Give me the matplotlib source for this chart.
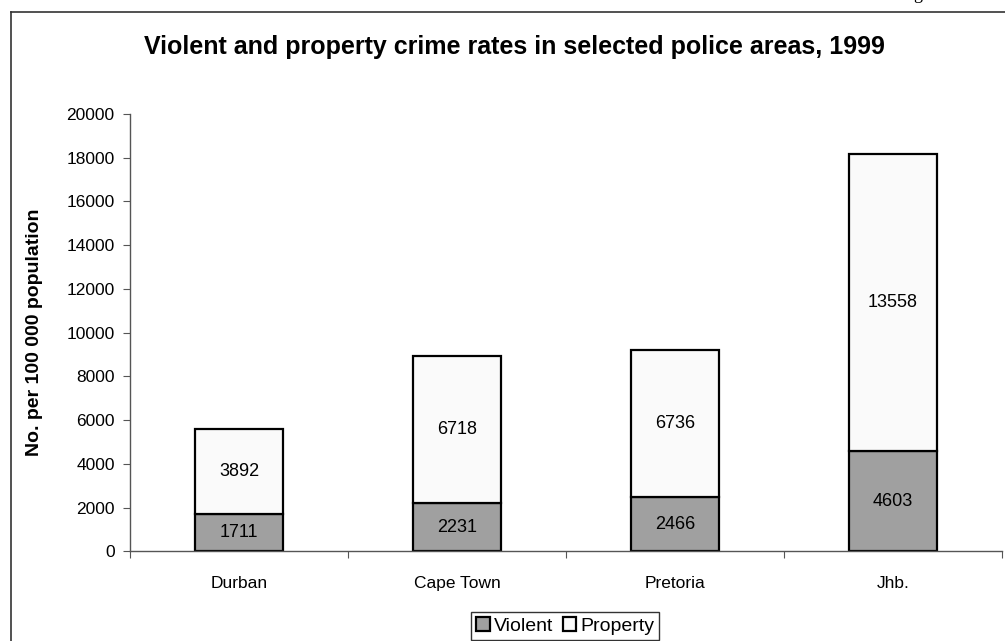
import matplotlib
matplotlib.use("Agg")
import matplotlib.pyplot as plt
from matplotlib.lines import Line2D
import numpy as np

# data
areas = ["Durban", "Cape Town", "Pretoria", "Jhb."]
violent = [1711, 2231, 2466, 4603]
property_crime = [3892, 6718, 6736, 13558]
y_ticks = list(range(0, 20001, 2000))

plt.rcParams['font.family'] = ['Liberation Sans', 'DejaVu Sans']

fig = plt.figure(figsize=(10.05, 6.41), dpi=100)
ax = fig.add_axes([130 / 1005, 1 - 551.4 / 641, 872 / 1005, 437.4 / 641])

x = np.arange(len(areas))
width = 0.405
b1 = ax.bar(x, violent, width, color='#a0a0a0', edgecolor='black',
            linewidth=1.6, label='Violent')
b2 = ax.bar(x, property_crime, width, bottom=violent, color='#fafafa',
            edgecolor='black', linewidth=1.6, label='Property')

# value labels in the middle of each segment
for xi, v, p in zip(x, violent, property_crime):
    ax.text(xi, v / 2, str(v), ha='center', va='center', fontsize=13)
    ax.text(xi, v + p / 2, str(p), ha='center', va='center', fontsize=13)

ax.set_xlim(-0.5, len(areas) - 0.5)
ax.set_ylim(0, 20000)
ax.set_yticks(y_ticks)
ax.set_yticklabels([str(t) for t in y_ticks])

# ticks at category boundaries, labels at category centres
ax.set_xticks(np.arange(len(areas) + 1) - 0.5)
ax.set_xticklabels([])
ax.set_xticks(x, minor=True)
ax.set_xticklabels(areas, minor=True)
ax.tick_params(axis='x', which='major', length=5, color='#555555')
ax.tick_params(axis='x', which='minor', length=0, pad=18, labelsize=12.5)
ax.tick_params(axis='y', length=5, color='#555555', labelsize=12.5, pad=6)

for s in ['top', 'right']:
    ax.spines[s].set_visible(False)
for s in ['left', 'bottom']:
    ax.spines[s].set_color('#555555')
    ax.spines[s].set_linewidth(1.0)

ax.set_ylabel('No. per 100 000 population', fontsize=14, fontweight='bold')
ax.yaxis.set_label_coords(-(130 - 43) / 872, (551.4 - 332) / 437.4)

fig.text(514 / 1005, 1 - 47 / 641, 'Violent and property crime rates in selected police areas, 1999',
         ha='center', va='center', fontsize=18, fontweight='bold')

leg = fig.legend(handles=[b1, b2], labels=['Violent', 'Property'],
                 loc='center', bbox_to_anchor=(565 / 1005, 1 - 626 / 641),
                 ncol=2, frameon=True, fancybox=False, fontsize=14,
                 handlelength=0.7, handleheight=0.7, handletextpad=0.2,
                 columnspacing=0.5, borderpad=0.25, borderaxespad=0)
leg.get_frame().set_edgecolor('black')
leg.get_frame().set_linewidth(1.0)

# outer frame of the original figure (cropped on right and bottom)
top_y = 1 - 12 / 641
left_x = 11 / 1005
fig.add_artist(Line2D([left_x, 1], [top_y, top_y], transform=fig.transFigure,
                      color='#333333', linewidth=1.2))
fig.add_artist(Line2D([left_x, left_x], [0, top_y], transform=fig.transFigure,
                      color='#333333', linewidth=1.2))

# cut-off caption letter at the very top
fig.text(918 / 1005, 1 + 1 / 641, 'g', ha='center', va='baseline',
         fontsize=13, family='Liberation Serif')

fig.savefig('out.png', dpi=100)
